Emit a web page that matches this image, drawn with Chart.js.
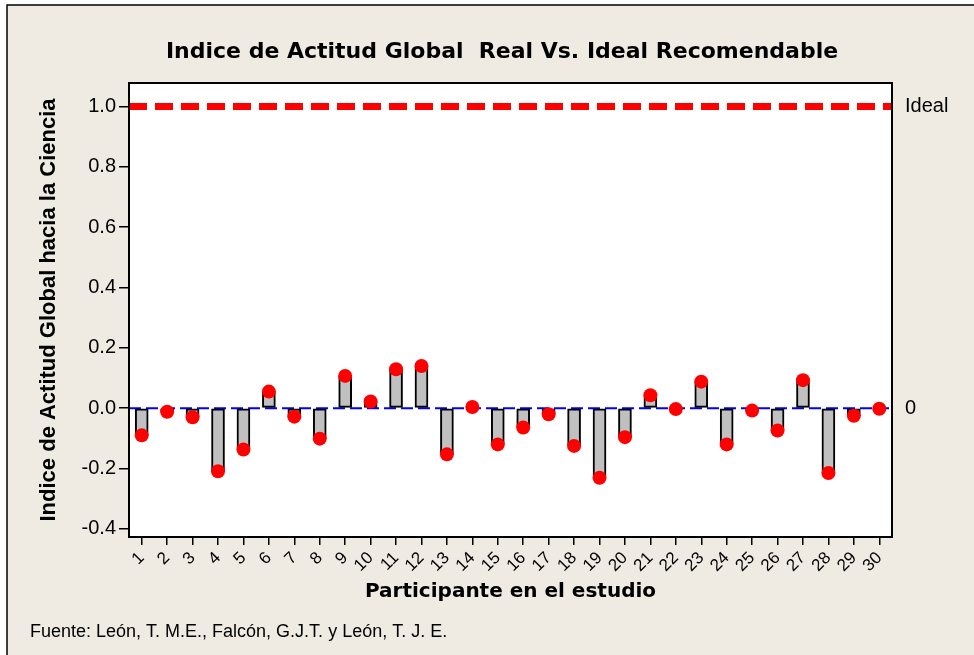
<!DOCTYPE html>
<html lang="es">

<head>
    <meta charset="UTF-8">
    <title>Indice de Actitud Global</title>
    <script src="https://cdn.jsdelivr.net/npm/chart.js"></script>
    <style>
        body {
            margin: 0;
            background: #ffffff;
        }

        .chart-box {
            width: 974px;
            height: 655px;
        }
    </style>
</head>

<body>
    <div class="chart-box">
        <canvas id="actitudChart" width="974" height="655"></canvas>
    </div>

    <script>
        // Participants 1..30
        const participantes = ['1', '2', '3', '4', '5', '6', '7', '8', '9', '10',
            '11', '12', '13', '14', '15', '16', '17', '18', '19', '20',
            '21', '22', '23', '24', '25', '26', '27', '28', '29', '30'];

        // Real index per participant
        const indiceReal = [-0.090, -0.012, -0.030, -0.209, -0.137, 0.055, -0.028, -0.101, 0.107, 0.022,
            0.129, 0.140, -0.153, 0.004, -0.120, -0.064, -0.020, -0.125, -0.231, -0.096,
            0.043, -0.003, 0.088, -0.120, -0.008, -0.074, 0.093, -0.215, -0.025, -0.002];

        // Reference lines: ideal value and zero
        const valorIdeal = 1.0;
        const valorCero = 0.0;
        const refValores = [valorIdeal, valorCero];
        const refEtiquetas = ['Ideal', '0'];

        // Y axis ticks
        const yTicks = [-0.4, -0.2, 0.0, 0.2, 0.4, 0.6, 0.8, 1.0];
        const yMin = -0.427;
        const yMax = 1.078;

        const xStart = 0.5;
        const xEnd = participantes.length + 0.5;

        const fondo = '#efebe2';

        // Beige panel with border, white plot area, plot frame
        const marcoPlugin = {
            id: 'marco',
            beforeDraw(chart) {
                const ctx = chart.ctx;
                const a = chart.chartArea;
                ctx.save();
                ctx.fillStyle = '#ffffff';
                ctx.fillRect(0, 0, chart.width, chart.height);
                ctx.fillStyle = fondo;
                ctx.fillRect(7, 5, chart.width - 7, chart.height - 5);
                ctx.strokeStyle = '#000';
                ctx.lineWidth = 1.5;
                ctx.beginPath();
                ctx.moveTo(7, chart.height);
                ctx.lineTo(7, 5);
                ctx.lineTo(chart.width, 5);
                ctx.stroke();
                ctx.fillStyle = '#ffffff';
                ctx.fillRect(a.left, a.top, a.right - a.left, a.bottom - a.top);
                ctx.restore();
            },
            afterDraw(chart) {
                const ctx = chart.ctx;
                const a = chart.chartArea;
                ctx.save();
                ctx.strokeStyle = '#000';
                ctx.lineWidth = 2;
                ctx.strokeRect(a.left, a.top, a.right - a.left, a.bottom - a.top);
                ctx.restore();
            }
        };

        Chart.defaults.color = '#000';
        Chart.defaults.font.family = '"Liberation Sans", Arial, sans-serif';

        const ctx = document.getElementById('actitudChart').getContext('2d');
        const actitudChart = new Chart(ctx, {
            type: 'bar',
            data: {
                labels: participantes,
                datasets: [
                    {
                        // real index as dots
                        type: 'line',
                        label: 'Real',
                        data: indiceReal,
                        showLine: false,
                        pointRadius: 7,
                        pointHoverRadius: 7,
                        pointBackgroundColor: '#ff0000',
                        pointBorderWidth: 0,
                        order: 0
                    },
                    {
                        // ideal reference line
                        type: 'line',
                        label: 'Ideal',
                        xAxisID: 'x2',
                        data: [{ x: xStart, y: valorIdeal }, { x: xEnd, y: valorIdeal }],
                        borderColor: '#ff0000',
                        borderWidth: 7,
                        borderDash: [18, 8],
                        pointRadius: 0,
                        order: 1
                    },
                    {
                        label: 'Indice',
                        data: indiceReal,
                        backgroundColor: '#c0c0c0',
                        borderColor: '#000',
                        borderWidth: 2,
                        borderSkipped: false,
                        barThickness: 13,
                        grouped: false,
                        order: 2
                    },
                    {
                        // zero line
                        type: 'line',
                        label: 'Cero',
                        xAxisID: 'x2',
                        data: [{ x: xStart, y: valorCero }, { x: xEnd, y: valorCero }],
                        borderColor: '#0000ff',
                        borderWidth: 2,
                        borderDash: [12, 5],
                        pointRadius: 0,
                        order: 3
                    }
                ]
            },
            options: {
                responsive: false,
                animation: false,
                layout: {
                    padding: { left: 30, right: 0, top: 0, bottom: 0 }
                },
                plugins: {
                    legend: { display: false },
                    tooltip: { enabled: false },
                    title: {
                        display: true,
                        text: 'Indice de Actitud Global  Real Vs. Ideal Recomendable',
                        font: { family: '"DejaVu Sans"', size: 22, weight: 'bold', lineHeight: 1.2 },
                        padding: { top: 39, bottom: 17.6 }
                    },
                    subtitle: {
                        display: true,
                        position: 'bottom',
                        align: 'start',
                        text: 'Fuente: León, T. M.E., Falcón, G.J.T. y León, T. J. E.',
                        font: { size: 18, lineHeight: 1.2 },
                        padding: { top: 4, bottom: 12.2 }
                    }
                },
                scales: {
                    x: {
                        grid: { drawOnChartArea: false, offset: false, tickLength: 8, color: '#000', lineWidth: 1.5 },
                        border: { display: false },
                        ticks: { autoSkip: false, maxRotation: 45, minRotation: 45, font: { size: 17 }, padding: 3 },
                        title: {
                            display: true,
                            text: 'Participante en el estudio',
                            font: { family: '"DejaVu Sans"', size: 20, weight: 'bold', lineHeight: 1.2 },
                            padding: { top: 0, bottom: 13.2 }
                        },
                        afterFit(scale) { scale.height = 80.2; }
                    },
                    x2: {
                        type: 'linear',
                        display: false,
                        offset: false,
                        min: xStart,
                        max: xEnd
                    },
                    y: {
                        min: yMin,
                        max: yMax,
                        grid: { drawOnChartArea: false, tickLength: 10, color: '#000', lineWidth: 1.5 },
                        border: { display: false },
                        afterBuildTicks(axis) { axis.ticks = yTicks.map(v => ({ value: v })); },
                        ticks: {
                            font: { size: 20 },
                            padding: 3,
                            callback: v => v.toFixed(1)
                        },
                        title: {
                            display: true,
                            text: 'Indice de Actitud Global hacia la Ciencia',
                            font: { size: 22, weight: 'bold', lineHeight: 1.2 },
                            padding: { top: 6, bottom: 0 }
                        },
                        afterFit(scale) { scale.width = 99; }
                    },
                    yR: {
                        position: 'right',
                        min: yMin,
                        max: yMax,
                        grid: { display: false, drawTicks: false },
                        border: { display: false },
                        afterBuildTicks(axis) { axis.ticks = refValores.map(v => ({ value: v })); },
                        ticks: {
                            font: { size: 20 },
                            padding: 13,
                            callback: v => refEtiquetas[refValores.indexOf(v)]
                        },
                        afterFit(scale) { scale.width = 82; }
                    }
                }
            },
            plugins: [marcoPlugin]
        });
    </script>
</body>

</html>
